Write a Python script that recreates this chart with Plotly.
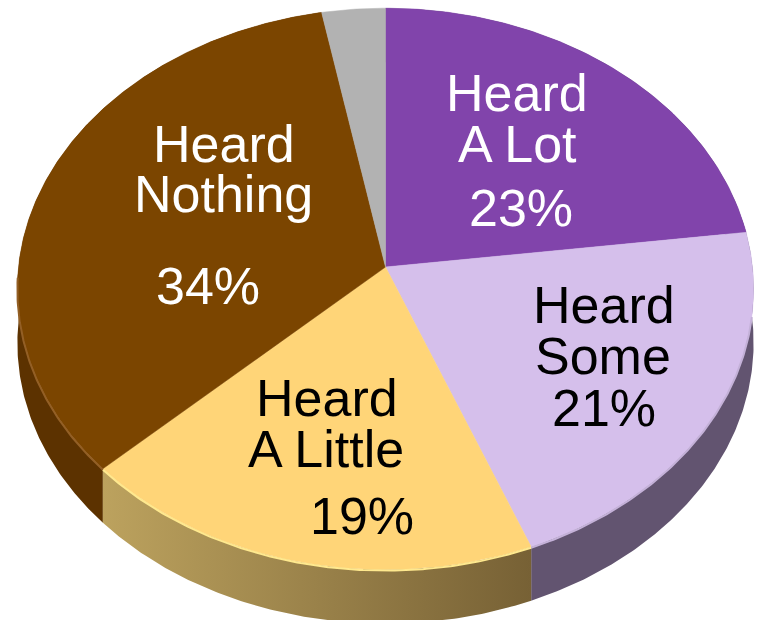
import numpy as np
import plotly.graph_objects as go

# slices clockwise from 12 o'clock
categories = ['Heard A Lot', 'Heard Some', 'Heard A Little', 'Heard Nothing', 'Other']
values = [23, 21, 19, 34, 3]

top_colors = ['#8144AB', '#D5BFEB', '#FFD578', '#7B4500', '#B2B2B2']
rim_colors = ['#8144AB', '#C4B1D8', '#FFE98E', '#935F25', '#B2B2B2']
side_left = ['#5A3F70', '#625470', '#BCA25E', '#5C3200', '#808080']
side_right = ['#5A3F70', '#625470', '#776135', '#5C3200', '#808080']

# label lines: text, x, y, colour
label_text = [['Heard', 'A Lot'], ['Heard', 'Some'], ['Heard', 'A Little'], ['Heard', 'Nothing']]
label_x = [[517, 517, 521], [604, 603, 604], [327, 326, 362], [224, 223, 208]]
label_y = [[93, 144, 208], [305, 356, 408], [398, 449, 516], [144, 194, 286]]
label_color = ['white', 'black', 'black', 'white']

# tilted disc geometry, in pixels of the 769x620 canvas
cx, cy = 385.5, 267
rx, ry = 367, 279
persp = 0.078
depth = 54


def arc(start, stop):
    t = np.radians(np.linspace(start, stop, max(int((stop - start) * 2), 2)))
    u, v = np.sin(t), np.cos(t)
    den = 1 + persp * v
    return cx + rx * u / den, cy - ry * v / den


fig = go.Figure()
edges = np.cumsum([0] + values) / sum(values) * 360

# sides first
for i in [0, 1, 3, 2]:
    x, y = arc(edges[i], edges[i + 1])
    fig.add_trace(go.Scatter(
        x=np.r_[x, x[::-1]], y=np.r_[y, y[::-1] + depth],
        mode='lines', line=dict(width=0), fill='toself',
        fillgradient=dict(type='horizontal',
                          colorscale=[[0, side_left[i]], [1, side_right[i]]]),
        hoverinfo='skip'))

# top faces
for i in range(len(values)):
    x, y = arc(edges[i], edges[i + 1])
    fig.add_trace(go.Scatter(
        x=np.r_[cx, x, cx], y=np.r_[cy, y, cy],
        mode='lines', line=dict(width=0.5, color=top_colors[i]),
        fill='toself', fillcolor=top_colors[i], hoverinfo='skip'))

# bevel highlight along the front rim
for i in [1, 2, 3]:
    x, y = arc(max(edges[i], 100), min(edges[i + 1], 268))
    fig.add_trace(go.Scatter(x=x, y=y + 1, mode='lines',
                             line=dict(width=2, color=rim_colors[i]),
                             hoverinfo='skip'))

for i in range(len(label_text)):
    lines = label_text[i] + ['{}%'.format(values[i])]
    for text, lx, ly in zip(lines, label_x[i], label_y[i]):
        fig.add_annotation(x=lx, y=ly, text=text, showarrow=False,
                           font=dict(family='Liberation Sans', size=52,
                                     color=label_color[i]))

fig.update_layout(
    width=769, height=620, margin=dict(l=0, r=0, t=0, b=0),
    paper_bgcolor='white', plot_bgcolor='white', showlegend=False,
    xaxis=dict(range=[0, 769], visible=False),
    yaxis=dict(range=[620, 0], visible=False),
)
# page margin would push the figure 8px off the window
fig.write_html("out.html", config=dict(displayModeBar=False),
               post_script="document.body.style.margin='0';document.body.style.overflow='hidden';")
